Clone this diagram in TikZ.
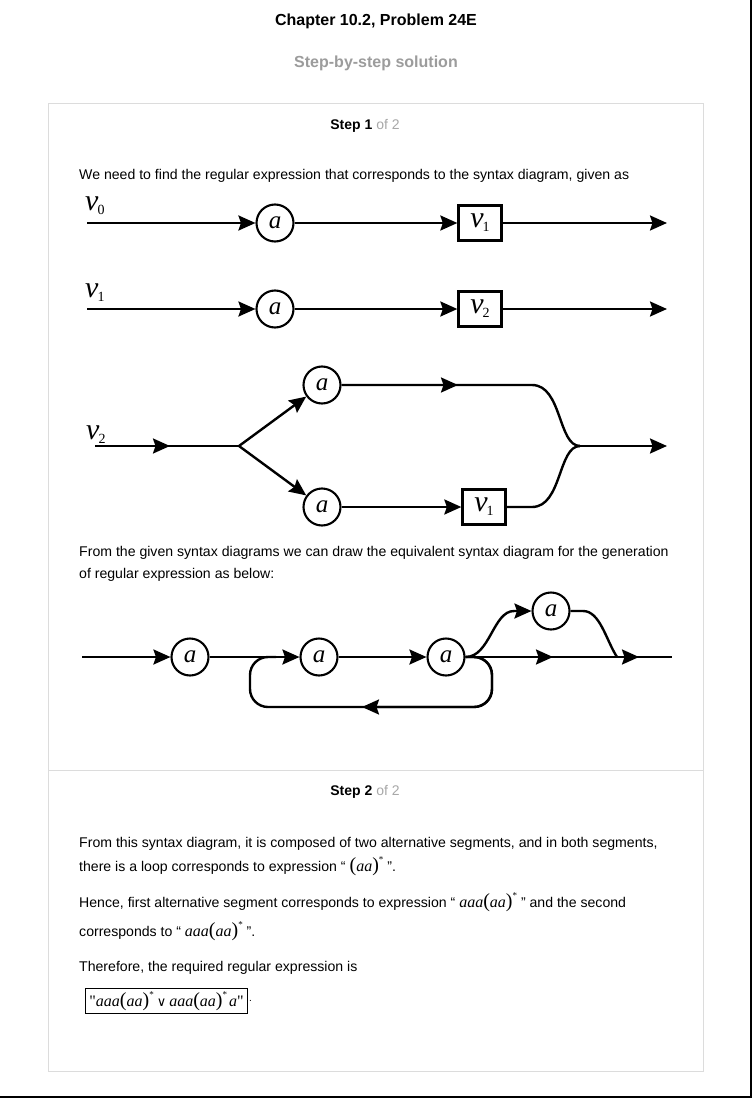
\documentclass[tikz,border=0pt]{standalone}
\usepackage{fontspec}
\setmainfont{Liberation Sans}
\newfontfamily\tmsfont{Liberation Serif}
\newfontfamily\symfont{DejaVu Sans}
\usetikzlibrary{arrows.meta}
\definecolor{boxgray}{HTML}{DCDCDC}
\definecolor{subgray}{HTML}{9C9C9C}
\definecolor{ofgray}{HTML}{A8A8A8}
% symbols used in the diagrams and the text
\newcommand{\vsym}[1]{{\tmsfont\itshape v}\kern-1pt\raisebox{-4pt}{\tmsfont\fontsize{14}{14}\selectfont #1}}
\newcommand{\ita}[1]{{\tmsfont\itshape\fontsize{16}{16}\selectfont #1}}
\newcommand{\bparen}[1]{{\tmsfont\fontsize{20}{20}\selectfont #1}}
\newcommand{\kstar}{\raisebox{9pt}{\tmsfont\fontsize{9}{9}\selectfont *}}
\newcommand{\aapow}{\bparen{(}\ita{aa}\bparen{)}\kstar}
\newcommand{\orsym}{{\symfont\fontsize{13}{13}\selectfont ∨}}
\begin{document}
\begin{tikzpicture}[x=1pt, y=-1pt,
    flow/.style={line width=2.4pt, -{Stealth[length=17pt,width=15pt,inset=2.5pt]}},
    wire/.style={line width=2.4pt},
    term/.style={circle, draw, line width=2.1pt, minimum size=37pt, inner sep=0pt,
      font=\tmsfont\itshape\fontsize{25}{25}\selectfont},
    nonterm/.style={rectangle, draw, line width=2.3pt, minimum width=43pt,
      minimum height=35pt, inner sep=0pt, font=\fontsize{30}{30}\selectfont},
    varname/.style={anchor=base west, inner sep=0pt, font=\fontsize{30}{30}\selectfont},
    body/.style={anchor=base west, inner sep=0pt, font=\fontsize{14.1}{17}\selectfont}]
    % page
    \useasboundingbox (0,0) rectangle (752,1099);
    \fill[white] (0,0) rectangle (752,1099);
    \draw[line width=2pt] (751,0) -- (751,1097) -- (0,1097);
    \draw[boxgray, line width=1pt] (48,104) rectangle (703,1071);
    \draw[boxgray, line width=1pt] (48,770) -- (703,770);
    % headings
    \node[font=\bfseries\fontsize{16}{19}\selectfont] (title) at (376,21) {Chapter 10.2, Problem 24E};
    \node[font=\bfseries\fontsize{16}{19}\selectfont, text=subgray] (solution) at (376,63) {Step-by-step solution};
    \node[font=\fontsize{14}{17}\selectfont] (step1) at (365,126) {\textbf{Step 1} \textcolor{ofgray}{of 2}};
    \node[body] (intro) at (79,180) {We need to find the regular expression that corresponds to the syntax diagram, given as};
    % v0
    \node[varname] (v0lab) at (85,211) {\vsym{0}};
    \coordinate (s0) at (87,223);
    \node[term] (a0) at (275,223) {a};
    \node[nonterm] (b0) at (480,223) {\vsym{1}};
    \coordinate (e0) at (667,223);
    \draw[flow] (s0) -- (a0);
    \draw[flow] (a0) -- (b0);
    \draw[flow] (b0) -- (e0);
    % v1
    \node[varname] (v1lab) at (85,297) {\vsym{1}};
    \coordinate (s1) at (87,309);
    \node[term] (a1) at (275,309) {a};
    \node[nonterm] (b1) at (480,309) {\vsym{2}};
    \coordinate (e1) at (667,309);
    \draw[flow] (s1) -- (a1);
    \draw[flow] (a1) -- (b1);
    \draw[flow] (b1) -- (e1);
    % v2
    \node[varname] (v2lab) at (86,439) {\vsym{2}};
    \coordinate (s2) at (95,446);
    \coordinate (m2) at (170,446);
    \coordinate (split) at (239,446);
    \node[term] (au) at (322,385) {a};
    \node[term] (ad) at (322,507) {a};
    \node[nonterm] (b2) at (484,507) {\vsym{1}};
    \coordinate (mu) at (458,385);
    \coordinate (bu) at (532,385);
    \coordinate (bd) at (532,507);
    \coordinate (merge) at (580,446);
    \coordinate (e2) at (667,446);
    \draw[wire] (s2) -- (split);
    \draw[flow] (s2) -- (m2);
    \draw[flow] (split) -- (au);
    \draw[flow] (split) -- (ad);
    \draw[wire] (au) -- (bu) .. controls (562,385) and (558,446) .. (merge);
    \draw[flow] (au) -- (mu);
    \draw[flow] (ad) -- (b2);
    \draw[wire] (b2) -- (bd) .. controls (562,507) and (558,446) .. (merge);
    \draw[flow] (merge) -- (e2);
    \node[body] (from1) at (79,556) {From the given syntax diagrams we can draw the equivalent syntax diagram for the generation};
    \node[body] (from2) at (79,578) {of regular expression as below:};
    % equivalent diagram
    \coordinate (s3) at (82,657);
    \node[term] (c1) at (190,657) {a};
    \node[term] (c2) at (319,657) {a};
    \node[term] (c3) at (446,657) {a};
    \node[term] (c4) at (551,611) {a};
    \coordinate (m3a) at (553,657);
    \coordinate (m3b) at (639,657);
    \coordinate (e3) at (672,657);
    \coordinate (back) at (362,707);
    \draw[flow] (s3) -- (c1);
    \draw[flow] (c1) -- (c2);
    \draw[flow] (c2) -- (c3);
    \draw[wire] (c3) -- (e3);
    \draw[flow] (c3) -- (m3a);
    \draw[flow] (m3a) -- (m3b);
    % loop back
    \draw[wire, rounded corners=18pt] (c3.east) -- (492,657) -- (492,707) -- (250,707) -- (250,657) -- (276,657);
    \draw[flow, rounded corners=18pt] (c3.east) -- (492,657) -- (492,707) -- (back);
    % optional a
    \draw[flow] (c3.east) .. controls (490,657) and (493,611) .. (514,611) -- (c4);
    \draw[wire] (c4) -- (583,611) .. controls (600,611) and (606,640) .. (617,657);
    % step 2
    \node[font=\fontsize{14}{17}\selectfont] (step2) at (365,792) {\textbf{Step 2} \textcolor{ofgray}{of 2}};
    \node[body] (p1) at (79,847) {From this syntax diagram, it is composed of two alternative segments, and in both segments,};
    \node[body] (p2) at (79,871) {there is a loop corresponds to expression “ \aapow{} ”.};
    \node[body] (p3) at (79,907) {Hence, first alternative segment corresponds to expression “ \ita{aaa}\aapow{} ” and the second};
    \node[body] (p4) at (79,936) {corresponds to “ \ita{aaa}\aapow{} ”.};
    \node[body] (p5) at (79,971) {Therefore, the required regular expression is};
    \node[draw, line width=0.8pt, inner xsep=4pt, inner ysep=3pt, anchor=west] (answer) at (85,1001)
      {{\tmsfont\fontsize{16}{16}\selectfont"}\ita{aaa}\aapow{}\hspace{3pt}\orsym{}\hspace{3pt}\ita{aaa}\aapow{}\hspace{2pt}\ita{a}{\tmsfont\fontsize{16}{16}\selectfont"}};
    \node[anchor=west, inner sep=1pt, font=\fontsize{10}{10}\selectfont] (dot) at (answer.east) {.};
\end{tikzpicture}
\end{document}
